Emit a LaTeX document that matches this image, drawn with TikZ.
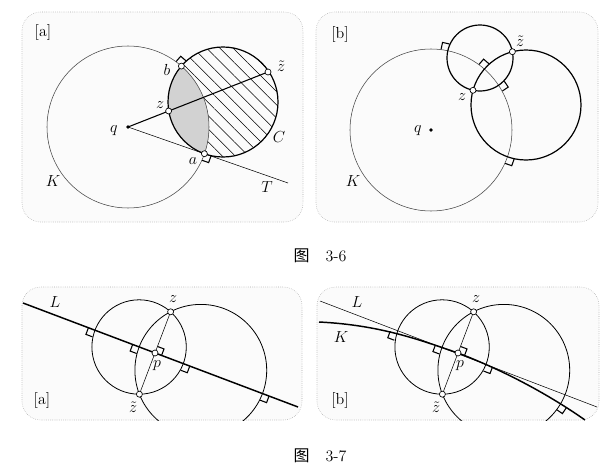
\documentclass[tikz,border=0pt]{standalone}
\usepackage{fontspec}
\newfontfamily\cjk{Noto Sans CJK SC}
\usetikzlibrary{calc,patterns.meta,intersections}

% right-angle mark at #1, sides along unit vectors #2 and #3
\newcommand{\rmark}[3]{\draw[rmk] ($(#1)+7*(#2)$) -- ($(#1)+7*(#2)+7*(#3)$) -- ($(#1)+7*(#3)$);}

\tikzset{
  panel/.style={draw=gray!70, densely dotted, fill=gray!3, rounded corners=14},
  thin circ/.style={draw=black!75, line width=0.4pt},
  thick circ/.style={draw, line width=0.9pt},
  rmk/.style={line width=0.8pt},
  pt/.style={circle, draw, fill=white, inner sep=0pt, minimum size=4.5pt, line width=0.5pt},
  lbl/.style={inner sep=0.75pt, font=\large},
}

\begin{document}
\begin{tikzpicture}[x=0.75pt,y=0.75pt,yscale=-1,xscale=1]
\useasboundingbox (0,0) rectangle (612,475);

%Panel 3-6 [a]
\draw[panel] (22,12) rectangle (303,222);
\coordinate (q1) at (128,127);
\coordinate (c1) at (223,102);
\coordinate (b1) at (181.4,66.1);
\coordinate (a1) at (204.4,153.7);
\coordinate (z1) at (168.6,111);
\coordinate (zt1) at (268,72);
\fill[pattern={Lines[angle=-45,distance=7pt,line width=0.4pt]}] (c1) circle (55);
\begin{scope}
  \clip (q1) circle (81);
  \fill[gray!35] (c1) circle (55);
\end{scope}
\draw[thin circ] (q1) circle (81);
\draw[thick circ] (c1) circle (55);
\draw[line width=0.4pt] (q1) -- (288,183);
\draw[line width=0.8pt] (q1) -- (zt1);
\rmark{b1}{0.659,-0.752}{-0.756,-0.653}
\rmark{a1}{0.943,0.330}{-0.338,0.940}
\fill (q1) circle (1.8);
\node[pt] at (b1) {};
\node[pt] at (a1) {};
\node[pt] at (z1) {};
\node[pt] at (zt1) {};
\node[lbl] at (43,32) {[a]};
\node[lbl] at (167,70) {$b$};
\node[lbl] at (160,105) {$z$};
\node[lbl] at (114,131) {$q$};
\node[lbl] at (193,161) {$a$};
\node[lbl] at (281,66) {$\tilde z$};
\node[lbl] at (279,137) {$C$};
\node[lbl] at (53,181) {$K$};
\node[lbl] at (267,187) {$T$};

%Panel 3-6 [b]
\draw[panel] (316,12) rectangle (598,222);
\coordinate (q2) at (431,130);
\coordinate (s2) at (480,58);
\coordinate (g2) at (526,105);
\coordinate (z2) at (473,90.3);
\coordinate (zt2) at (512.4,51.7);
\coordinate (k1) at (447.9,50.8);
\coordinate (k2) at (498.5,85.2);
\coordinate (k3) at (484.3,69);
\coordinate (k4) at (507.5,156.8);
\draw[thin circ] (q2) circle (81);
\draw[thick circ] (s2) circle (33);
\draw[thick circ] (g2) circle (55);
\rmark{k1}{0.209,-0.978}{-0.973,-0.218}
\rmark{k2}{0.833,-0.553}{0.561,0.824}
\rmark{k3}{0.658,-0.753}{-0.758,-0.655}
\rmark{k4}{0.944,0.331}{-0.336,0.942}
\fill (q2) circle (1.8);
\node[pt] at (z2) {};
\node[pt] at (zt2) {};
\node[lbl] at (340,34) {[b]};
\node[lbl] at (520,41) {$\tilde z$};
\node[lbl] at (462,97) {$z$};
\node[lbl] at (418,131) {$q$};
\node[lbl] at (353,181) {$K$};

\node[lbl] at (320,256) {{\cjk 图}\quad 3-6};

%Panel 3-7 [a]
\draw[panel] (22,287) rectangle (302,420);
\coordinate (p3) at (155,353);
\coordinate (z3) at (170.6,311.8);
\coordinate (zt3) at (139.4,394.2);
\begin{scope}
  \clip (22,287) rectangle (302,420);
  \draw[line width=0.6pt] (139.1,347) circle (47.2);
  \draw[line width=0.6pt] (200.8,370.3) circle (65.9);
\end{scope}
\draw[line width=1.1pt] (23,303) -- (298,407);
\draw[line width=0.4pt] (z3) -- (zt3);
\rmark{94.95,330.3}{-0.935,-0.354}{-0.354,0.935}
\rmark{183.2,363.7}{0.935,0.354}{-0.354,0.935}
\rmark{139.2,347}{-0.935,-0.354}{-0.354,0.935}
\rmark{262.5,393.6}{0.935,0.354}{-0.354,0.935}
\rmark{p3}{0.935,0.354}{0.354,-0.935}
\node[pt] at (p3) {};
\node[pt] at (z3) {};
\node[pt] at (zt3) {};
\node[lbl] at (55,302) {$L$};
\node[lbl] at (173,299) {$z$};
\node[lbl] at (157,366) {$p$};
\node[lbl] at (133,407) {$\tilde z$};
\node[lbl] at (42,400) {[a]};

%Panel 3-7 [b]
\draw[panel] (317,287) rectangle (599,420);
\coordinate (p4) at (458,353);
\coordinate (z4) at (473.6,311.8);
\coordinate (zt4) at (442.4,394.2);
\begin{scope}
  \clip (317,287) rectangle (599,420);
  \draw[line width=0.6pt, name path global=cl] (442.1,347) circle (47.2);
  \draw[line width=0.6pt, name path global=cr] (503.8,370.3) circle (65.9);
  \draw[line width=1.1pt, name path global=Kb] (319,322) .. controls (380,325) and (420,340) .. (p4) .. controls (500,369) and (545,392) .. (585,420);
\end{scope}
\draw[line width=0.4pt] (320,301) -- (597,407);
\draw[line width=0.4pt] (z4) -- (zt4);
\path[name intersections={of=Kb and cl, name=il, sort by=Kb}];
\path[name intersections={of=Kb and cr, name=ir, sort by=Kb}];
\rmark{il-1}{-0.935,-0.354}{-0.354,0.935}
\rmark{il-2}{0.935,0.354}{-0.354,0.935}
\rmark{ir-1}{-0.935,-0.354}{-0.354,0.935}
\rmark{ir-2}{0.83,0.56}{-0.56,0.83}
\rmark{p4}{0.935,0.354}{0.354,-0.935}
\node[pt] at (p4) {};
\node[pt] at (z4) {};
\node[pt] at (zt4) {};
\node[lbl] at (357,302) {$L$};
\node[lbl] at (341,337) {$K$};
\node[lbl] at (476,299) {$z$};
\node[lbl] at (460,366) {$p$};
\node[lbl] at (436,407) {$\tilde z$};
\node[lbl] at (340,400) {[b]};

\node[lbl] at (320,456) {{\cjk 图}\quad 3-7};
\end{tikzpicture}
\end{document}
